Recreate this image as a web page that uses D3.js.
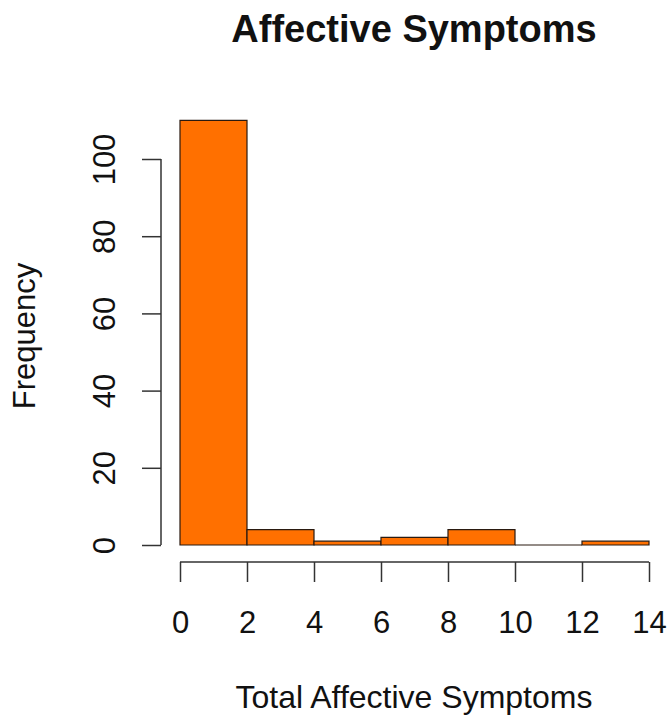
<!DOCTYPE html>
<html>
<head>
<meta charset="utf-8">
<script src="https://cdn.jsdelivr.net/npm/d3@7"></script>
<style>
  body { margin: 0; background: #fff; }
  text { font-family: "Liberation Sans", Arial, Helvetica, sans-serif; fill: #111; }
</style>
</head>
<body>
<div id="chart"></div>
<script>
// histogram data
var binStarts = [0, 2, 4, 6, 8, 10, 12];
var binWidth = 2;
var counts = [110, 4, 1, 2, 4, 0, 1];
var xTicks = [0, 2, 4, 6, 8, 10, 12, 14];
var yTicks = [0, 20, 40, 60, 80, 100];

var svgWidth = 669;
var svgHeight = 724;

var svg = d3.select("#chart")
  .append("svg")
  .attr("width", svgWidth)
  .attr("height", svgHeight);

// scales
var xScale = d3.scaleLinear()
  .domain([0, 14])
  .range([180, 649]);

var yScale = d3.scaleLinear()
  .domain([0, 100])
  .range([545, 159]);

// bars as closed paths so an empty bin still shows its border line
svg.selectAll("path.bar")
  .data(counts)
  .enter()
  .append("path")
  .attr("class", "bar")
  .attr("d", function(d, i) {
    var x0 = xScale(binStarts[i]);
    var x1 = xScale(binStarts[i] + binWidth);
    var y0 = yScale(0);
    var y1 = yScale(d);
    return `M${x0},${y0}H${x1}V${y1}H${x0}Z`;
  })
  .attr("fill", "#ff7000")
  .attr("stroke", "#2a1a10")
  .attr("stroke-width", 1.2);

// x axis (R style, offset below the bars)
var xAxis = d3.axisBottom(xScale)
  .tickValues(xTicks)
  .tickSize(20)
  .tickFormat(d3.format("d"));

var gx = svg.append("g")
  .attr("transform", "translate(0, 562)")
  .call(xAxis);
gx.select(".domain").attr("d", `M${xScale(0)},0H${xScale(14)}`).attr("stroke", "#333").attr("stroke-width", 1.5);
gx.selectAll(".tick line").attr("stroke", "#333").attr("stroke-width", 1.5);
gx.selectAll(".tick text")
  .attr("font-size", "31px")
  .attr("dy", "0")
  .attr("y", 71);

// y axis
var yAxis = d3.axisLeft(yScale)
  .tickValues(yTicks)
  .tickSize(19)
  .tickFormat(d3.format("d"));

var gy = svg.append("g")
  .attr("transform", "translate(161, 0)")
  .call(yAxis);
gy.select(".domain").attr("d", `M0,${yScale(0)}V${yScale(100)}`).attr("stroke", "#333").attr("stroke-width", 1.5);
gy.selectAll(".tick line").attr("stroke", "#333").attr("stroke-width", 1.5);
gy.selectAll(".tick text")
  .attr("font-size", "31px")
  .attr("text-anchor", "middle")
  .attr("x", 0)
  .attr("dy", "0")
  .attr("transform", "translate(-46, 0) rotate(-90)");

// title and axis labels
svg.append("text")
  .attr("x", 414)
  .attr("y", 42)
  .attr("text-anchor", "middle")
  .attr("font-size", "38px")
  .attr("font-weight", "bold")
  .text("Affective Symptoms");

svg.append("text")
  .attr("x", 414)
  .attr("y", 708)
  .attr("text-anchor", "middle")
  .attr("font-size", "32px")
  .text("Total Affective Symptoms");

svg.append("text")
  .attr("transform", "translate(35, 336) rotate(-90)")
  .attr("text-anchor", "middle")
  .attr("font-size", "31px")
  .text("Frequency");
</script>
</body>
</html>
